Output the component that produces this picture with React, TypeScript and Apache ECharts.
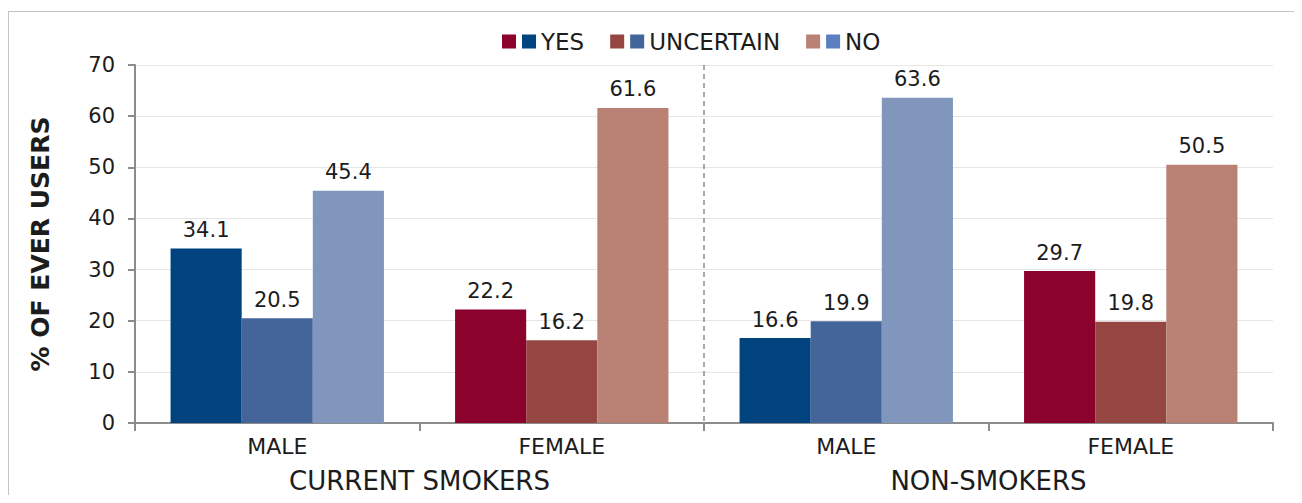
import React, { useEffect, useRef } from "react";
import * as echarts from "echarts";

const categories = ["MALE", "FEMALE", "MALE", "FEMALE"];
const groups = ["CURRENT SMOKERS", "NON-SMOKERS"];
const seriesNames = ["YES", "UNCERTAIN", "NO"];
const yesValues = [34.1, 22.2, 16.6, 29.7];
const uncertainValues = [20.5, 16.2, 19.9, 19.8];
const noValues = [45.4, 61.6, 63.6, 50.5];
const yTicks = [0, 10, 20, 30, 40, 50, 60, 70];

const maleColors = ["#01437f", "#43659a", "#8196bc"];
const femaleColors = ["#8b022c", "#954643", "#b98074"];
const legendBlues = ["#01437f", "#43669a", "#5b7fc0"];
const legendReds = ["#8b022c", "#954643", "#b98074"];

const FONT = "DejaVu Sans";
const TEXT = "#1c1c1c";

export default function App() {
  const ref = useRef<HTMLDivElement>(null);
  useEffect(() => {
    if (!ref.current) return;
    const chart = echarts.init(ref.current, undefined, { renderer: "svg" });
    const values = [yesValues, uncertainValues, noValues];
    const catKeys = categories.map((c, i) => c + "|" + i);
    const series = seriesNames.map((name, si) => ({
      name,
      type: "bar",
      xAxisIndex: 0,
      barGap: "0%",
      barCategoryGap: "25%",
      itemStyle: { color: legendBlues[si] },
      label: {
        show: true,
        position: "top",
        distance: 8,
        color: TEXT,
        fontFamily: FONT,
        fontSize: 21,
        formatter: (p: any) => p.value.toFixed(1),
      },
      data: values[si].map((v, ci) => ({
        value: v,
        itemStyle: { color: categories[ci] === "MALE" ? maleColors[si] : femaleColors[si] },
      })),
    }));
    const legendData = seriesNames.map((name, si) => ({
      name,
      itemStyle: {
        color: {
          type: "linear",
          x: 0, y: 0, x2: 1, y2: 0,
          colorStops: [
            { offset: 0, color: legendReds[si] },
            { offset: 0.5, color: legendReds[si] },
            { offset: 0.5, color: legendBlues[si] },
            { offset: 1, color: legendBlues[si] },
          ],
        },
      },
    }));
    chart.setOption({
      animation: false,
      textStyle: { fontFamily: FONT },
      legend: {
        data: legendData,
        left: 488,
        top: 13,
        icon: "path://M0,0h14v14h-14z M20,0h14v14h-14z",
        itemWidth: 34,
        itemHeight: 14,
        itemGap: 26,
        textStyle: { fontFamily: FONT, fontSize: 23, color: TEXT },
      },
      grid: { left: 126, right: 21, top: 53, bottom: 72 },
      xAxis: [
        {
          type: "category",
          data: catKeys,
          axisLine: { lineStyle: { color: "#8c8c8c", width: 2 } },
          axisTick: { show: true, length: 8, lineStyle: { color: "#8c8c8c", width: 2 } },
          axisLabel: {
            margin: 12,
            color: TEXT,
            fontFamily: FONT,
            fontSize: 22,
            formatter: (v: string) => v.split("|")[0],
          },
        },
        {
          type: "category",
          position: "bottom",
          data: groups,
          axisLine: { show: false },
          axisTick: { show: false },
          axisLabel: { margin: 45, color: TEXT, fontFamily: FONT, fontSize: 26 },
        },
      ],
      yAxis: {
        type: "value",
        min: 0,
        max: 70,
        interval: 10,
        name: "% OF EVER USERS",
        nameLocation: "middle",
        nameGap: 82,
        nameTextStyle: { fontFamily: FONT, fontSize: 25, fontWeight: "bold", color: TEXT },
        axisLine: { show: true, lineStyle: { color: "#8c8c8c", width: 2 } },
        axisTick: { show: true, length: 7, lineStyle: { color: "#8c8c8c", width: 2 } },
        axisLabel: {
          margin: 20,
          color: TEXT,
          fontFamily: FONT,
          fontSize: 21,
          formatter: (v: number) => (yTicks.includes(v) ? String(v) : ""),
        },
        splitLine: { lineStyle: { color: "#e6e6e6", width: 1 } },
      },
      series,
    });
    const x1 = chart.convertToPixel({ xAxisIndex: 0 }, catKeys[1]) as number;
    const x2 = chart.convertToPixel({ xAxisIndex: 0 }, catKeys[2]) as number;
    const xd = (x1 + x2) / 2;
    const yTop = chart.convertToPixel({ yAxisIndex: 0 }, yTicks[yTicks.length - 1]) as number;
    const yBot = chart.convertToPixel({ yAxisIndex: 0 }, yTicks[0]) as number;
    chart.setOption({
      graphic: [
        {
          type: "line",
          shape: { x1: xd, y1: yTop, x2: xd, y2: yBot + 9 },
          style: { stroke: "#8c8c8c", lineWidth: 1.5, lineDash: [5, 4] },
          z: 10,
        },
      ],
    });
    return () => chart.dispose();
  }, []);
  return (
    <div style={{ paddingTop: 3 }}>
      <div
        ref={ref}
        style={{
          width: 1285,
          height: 483,
          borderTop: "1px solid #c4c4c4",
          borderLeft: "1px solid #c4c4c4",
        }}
      />
    </div>
  );
}
